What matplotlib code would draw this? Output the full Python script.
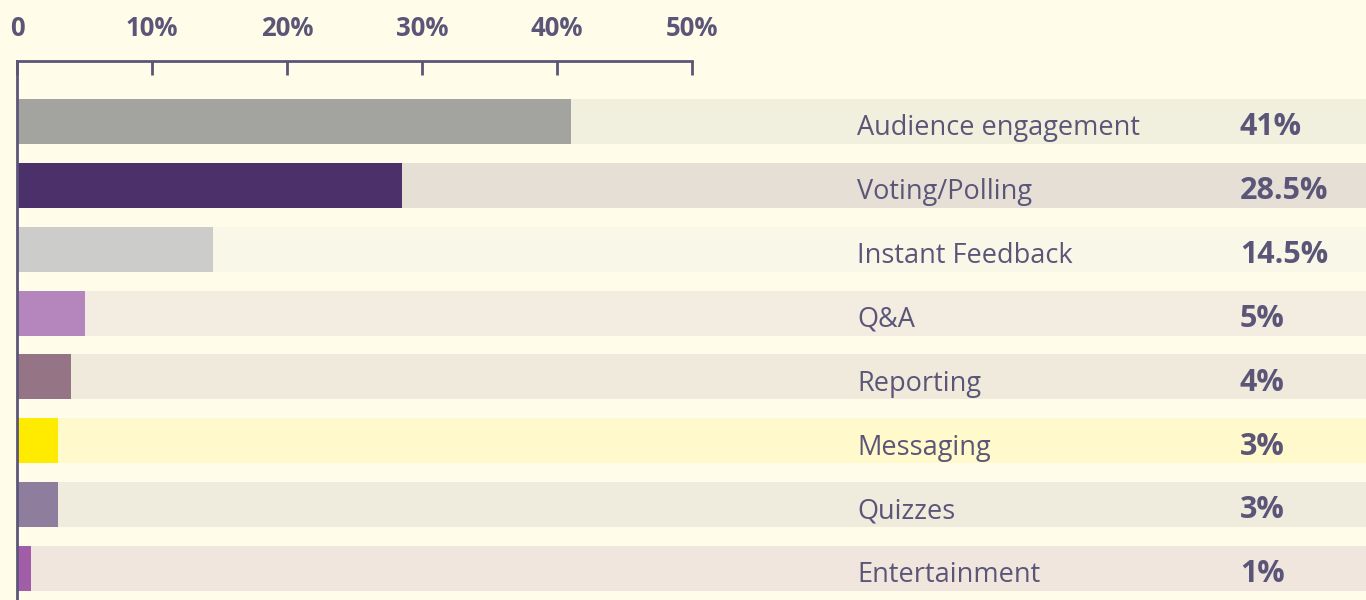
import matplotlib
matplotlib.use("Agg")
import matplotlib.pyplot as plt
import matplotlib.transforms as mtransforms

categories = ["Audience engagement", "Voting/Polling", "Instant Feedback", "Q&A",
              "Reporting", "Messaging", "Quizzes", "Entertainment"]
values = [41, 28.5, 14.5, 5, 4, 3, 3, 1]
value_labels = ["41%", "28.5%", "14.5%", "5%", "4%", "3%", "3%", "1%"]
bar_colors = ["#A3A4A0", "#4B306A", "#CCCCCA", "#B585BD",
              "#957486", "#FFEB00", "#8F7D9E", "#A25DA8"]
band_colors = ["#F1F0DF", "#E6DFD6", "#F8F7E8", "#F3ECE1",
               "#F0EADC", "#FFF9CC", "#EFEBDD", "#F0E6DE"]
tick_values = [0, 10, 20, 30, 40, 50]
tick_labels = ["0", "10%", "20%", "30%", "40%", "50%"]

BG = "#FFFDE9"
TXT = "#5B5678"
W, H = 1366, 600

fig = plt.figure(figsize=(W / 100, H / 100), dpi=100, facecolor=BG)
ax = fig.add_axes([17 / W, 0, 1 - 17 / W, (H - 61) / H])
ax.set_facecolor(BG)

px_per_pct = 13.5
xmax = (W - 17) / px_per_pct
ax.set_xlim(0, xmax)
ax.set_ylim(7.493, -0.947)

ypos = list(range(len(categories)))
bh = 0.705
ax.barh(ypos, [xmax] * len(ypos), height=bh, color=band_colors, zorder=1)
ax.barh(ypos, values, height=bh, color=bar_colors, zorder=2)

for s in ["right", "bottom"]:
    ax.spines[s].set_visible(False)
for s in ["top", "left"]:
    ax.spines[s].set_color(TXT)
    ax.spines[s].set_linewidth(2)
    ax.spines[s].set_zorder(5)
ax.spines["top"].set_bounds(0, 50)

ax.xaxis.tick_top()
ax.set_xticks(tick_values)
ax.set_xticklabels(tick_labels)
ax.tick_params(axis="x", direction="in", length=10, width=2, color=TXT,
               pad=14, labelsize=18.5, labelcolor=TXT)
for lab in ax.get_xticklabels():
    lab.set_fontweight("bold")
    lab.set_family("Open Sans")
ax.set_yticks([])

trans = mtransforms.blended_transform_factory(fig.transFigure, ax.transData)
for i, (c, v) in enumerate(zip(categories, value_labels)):
    ax.text(857 / W, i + 0.215, c, transform=trans, ha="left", va="baseline",
            fontsize=19.5, color=TXT, family="Open Sans", zorder=6)
    ax.text(1240 / W, i + 0.215, v, transform=trans, ha="left", va="baseline",
            fontsize=22, color=TXT, family="Open Sans", fontweight="bold", zorder=6)

fig.savefig("out.png", dpi=100, facecolor=BG)
